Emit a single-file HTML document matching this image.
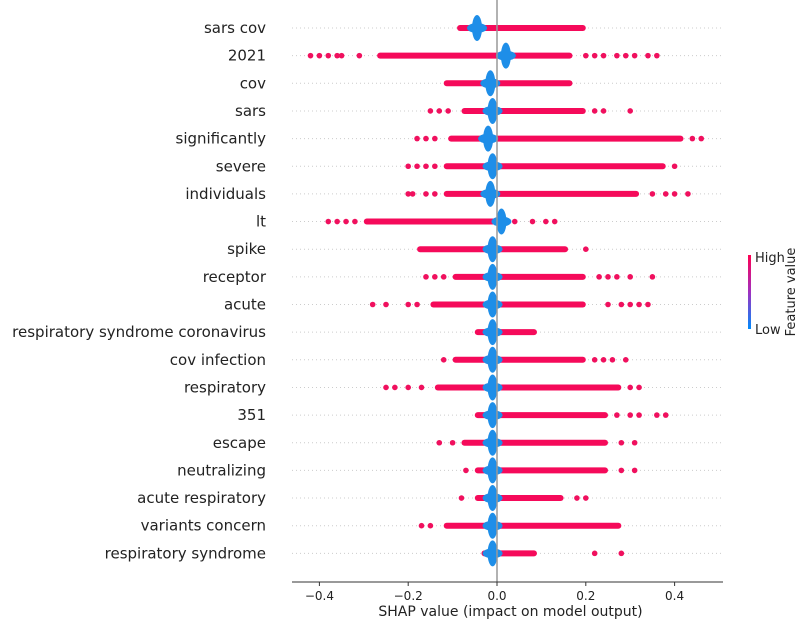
<!DOCTYPE html>
<html><head><meta charset="utf-8"><style>
body{margin:0;background:#fff;}
svg text{font-family:"DejaVu Sans","Liberation Sans",sans-serif;fill:#222;}
</style></head><body>
<svg id="chart" width="797" height="621" viewBox="0 0 797 621">
<defs><linearGradient id="cb" x1="0" y1="0" x2="0" y2="1"><stop offset="0" stop-color="#ff0052"/><stop offset="0.5" stop-color="#a030c0"/><stop offset="1" stop-color="#008bfb"/></linearGradient></defs>
<g id="grid"></g><g id="marks"></g><g id="axis"></g>
<rect x="748" y="255" width="3" height="74" fill="url(#cb)"/>
<text x="755" y="262" font-size="13">High</text>
<text x="755" y="334" font-size="13">Low</text>
<text transform="translate(795,292) rotate(-90)" text-anchor="middle" font-size="13">Feature value</text>
</svg>
<script>
const features=["sars cov","2021","cov","sars","significantly","severe","individuals","lt","spike","receptor","acute","respiratory syndrome coronavirus","cov infection","respiratory","351","escape","neutralizing","acute respiratory","variants concern","respiratory syndrome"];
const denseLo=[-0.09,-0.27,-0.12,-0.08,-0.11,-0.12,-0.12,-0.3,-0.18,-0.1,-0.15,-0.05,-0.1,-0.14,-0.05,-0.08,-0.05,-0.05,-0.12,-0.035];
const denseHi=[0.2,0.17,0.17,0.2,0.42,0.38,0.32,0.0,0.16,0.2,0.2,0.09,0.2,0.28,0.25,0.25,0.25,0.15,0.28,0.09];
const outliers=[[],[-0.42,-0.4,-0.38,-0.36,-0.35,-0.31,0.2,0.22,0.24,0.27,0.29,0.31,0.34,0.36],[],[-0.15,-0.13,-0.11,0.22,0.24,0.3],[-0.18,-0.16,-0.14,0.44,0.46],[-0.2,-0.18,-0.16,-0.14,0.4],[-0.2,-0.19,-0.16,-0.14,0.35,0.38,0.4,0.43],[-0.38,-0.36,-0.34,-0.32,0.04,0.08,0.11,0.13],[0.2],[-0.16,-0.14,-0.12,0.23,0.25,0.27,0.3,0.35],[-0.28,-0.25,-0.2,-0.18,0.25,0.28,0.3,0.32,0.34],[],[-0.12,0.22,0.24,0.26,0.29],[-0.25,-0.23,-0.2,-0.17,0.3,0.32],[0.27,0.3,0.32,0.36,0.38],[-0.13,-0.1,0.28,0.31],[-0.07,0.28,0.31],[-0.08,0.18,0.2],[-0.17,-0.15],[0.22,0.28]];
const blueCenter=[-0.045,0.02,-0.015,-0.01,-0.02,-0.01,-0.015,0.01,-0.01,-0.01,-0.01,-0.01,-0.01,-0.01,-0.01,-0.01,-0.01,-0.01,-0.01,-0.01];
const ticks=[-0.4,-0.2,0.0,0.2,0.4];
const tickLabels=["\u22120.4","\u22120.2","0.0","0.2","0.4"];
const NS="http://www.w3.org/2000/svg";
const x0=292,x1=723,vmin=-0.4617,vmax=0.509;
const xs=v=>x0+(v-vmin)/(vmax-vmin)*(x1-x0);
const ys=i=>28+i*27.65;
function mk(tag,attrs,parent){const e=document.createElementNS(NS,tag);for(const k in attrs)e.setAttribute(k,attrs[k]);document.getElementById(parent).appendChild(e);return e;}
features.forEach((f,i)=>{
  const y=ys(i);
  let g=mk("line",{x1:x0,x2:x1,y1:y,y2:y,stroke:"#ccc","stroke-dasharray":"1 3","stroke-width":1},"grid");
  
  
  let t=mk("text",{x:266,y:y+5,"text-anchor":"end","font-size":15},"grid");
  t.textContent=f;
  
  
  let d=mk("rect",{x:xs(denseLo[i]),y:y-3,width:xs(denseHi[i])-xs(denseLo[i]),height:6,rx:3,fill:"#f50a5a"},"marks");
  
  
  outliers[i].forEach(v=>{
    let c=mk("circle",{cx:xs(v),cy:y,r:2.8,fill:"#f0105e"},"marks");
    
    
  });
  const bx=xs(blueCenter[i]);
  let b1=mk("ellipse",{cx:bx,cy:y,rx:10,ry:5,fill:"#1e8ee8"},"marks");
  
  
  let b2=mk("ellipse",{cx:bx,cy:y,rx:5,ry:13,fill:"#1e8ee8"},"marks");
  
  
});
let z=mk("line",{x1:xs(0),x2:xs(0),y1:0,y2:582,stroke:"#999","stroke-width":1.5},"marks");


let ax=mk("line",{x1:x0,x2:x1,y1:582,y2:582,stroke:"#333","stroke-width":1},"axis");


ticks.forEach((v,k)=>{
  let tl=mk("line",{x1:xs(v),x2:xs(v),y1:582,y2:586,stroke:"#333"},"axis");
  
  
  let tt=mk("text",{x:xs(v),y:600,"text-anchor":"middle","font-size":12},"axis");
  tt.textContent=tickLabels[k];
  
  
});
let at=mk("text",{x:(x0+x1)/2+3,y:616,"text-anchor":"middle","font-size":14},"axis");
at.textContent="SHAP value (impact on model output)";


</script>
</body></html>
